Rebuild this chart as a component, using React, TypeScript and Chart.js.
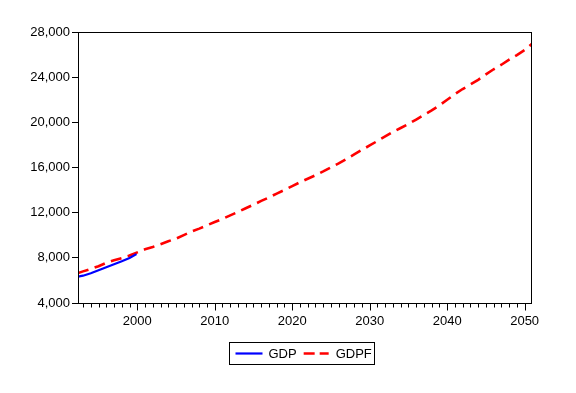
import React, { useEffect, useRef } from 'react';
import { Chart, registerables } from 'chart.js';

Chart.register(...registerables);

// Series names
const seriesNames = ['GDP', 'GDPF'];

const gdpYears = [1992.35, 1993, 1994, 1995, 1996, 1997, 1998, 1999, 1999.9];
const gdpValues = [6330, 6420, 6640, 6900, 7170, 7430, 7690, 7990, 8330];

// GDPF (forecast)
const gdpfYears = [
  1992.35, 1993, 1994, 1995, 1996, 1997, 1998, 1999, 2000, 2001, 2002, 2003, 2004,
  2005, 2006, 2007, 2008, 2009, 2010, 2011, 2012, 2013, 2014, 2015, 2016, 2017,
  2018, 2019, 2020, 2021, 2022, 2023, 2024, 2025, 2026, 2027, 2028, 2029, 2030,
  2031, 2032, 2033, 2034, 2035, 2036, 2037, 2038, 2039, 2040, 2041, 2042, 2043,
  2044, 2045, 2046, 2047, 2048, 2049, 2050, 2050.95,
];
const gdpfValues = [
  6650, 6800, 7020, 7260, 7560, 7790, 7980, 8200, 8480, 8760, 8960, 9210, 9470,
  9700, 10010, 10320, 10590, 10880, 11170, 11450, 11760, 12060, 12390, 12700, 13040, 13350,
  13690, 14010, 14350, 14690, 15000, 15310, 15650, 16010, 16360, 16760, 17160, 17560, 17950,
  18350, 18750, 19150, 19500, 19860, 20250, 20660, 21060, 21500, 22000, 22500, 22950, 23350,
  23760, 24250, 24700, 25100, 25550, 25960, 26400, 26950,
];

// Axis ticks
const yTicks = [4000, 8000, 12000, 16000, 20000, 24000, 28000];
const xLabelYears = [2000, 2010, 2020, 2030, 2040, 2050];
const xMinorYears = Array.from({ length: 58 }, (_, i) => 1993 + i);
const xRange = [1992.35, 2050.95];
const yRange = [4000, 28000];

const FONT = '"Liberation Sans", Arial, sans-serif';

export default function App() {
  const ref = useRef<HTMLCanvasElement>(null);

  useEffect(() => {
    const frame = {
      id: 'frame',
      afterDraw(chart: any) {
        const ctx = chart.ctx as CanvasRenderingContext2D;
        const { left, top, right, bottom } = chart.chartArea;
        const x0 = Math.round(left) + 0.5;
        const x1 = Math.round(right) - 0.5;
        const y0 = Math.round(top) + 0.5;
        const y1 = Math.round(bottom) + 0.5;
        ctx.save();
        ctx.strokeStyle = '#000';
        ctx.lineWidth = 1;
        ctx.setLineDash([]);
        ctx.strokeRect(x0, y0, x1 - x0, y1 - y0);
        // x tick marks (minor every year, major every decade)
        const xs = chart.scales.x;
        ctx.beginPath();
        xMinorYears.forEach((yr) => {
          const p = Math.round(xs.getPixelForValue(yr)) + 0.5;
          const len = yr % 10 === 0 ? 7 : 4;
          ctx.moveTo(p, y1);
          ctx.lineTo(p, y1 + len);
        });
        ctx.stroke();

        // legend
        ctx.font = `13px ${FONT}`;
        ctx.fillStyle = '#000';
        ctx.textBaseline = 'middle';
        ctx.textAlign = 'left';
        const w1 = ctx.measureText(seriesNames[0]).width;
        const w2 = ctx.measureText(seriesNames[1]).width;
        const total = 6 + 27 + 6 + w1 + 7 + 25 + 7 + w2 + 3;
        const bx = 229.5;
        const by = 342.5;
        const bh = 22;
        ctx.strokeRect(bx, by, Math.round(total), bh);
        const ly = 353.5;
        let x = bx + 6;
        ctx.strokeStyle = '#0000FF';
        ctx.lineWidth = 2.2;
        ctx.beginPath();
        ctx.moveTo(x, ly);
        ctx.lineTo(x + 27, ly);
        ctx.stroke();
        x += 27 + 6;
        ctx.fillText(seriesNames[0], x, ly + 0.5);
        x += w1 + 7;
        ctx.strokeStyle = '#FF0000';
        ctx.lineWidth = 2.6;
        ctx.setLineDash([11, 5]);
        ctx.beginPath();
        ctx.moveTo(x, ly);
        ctx.lineTo(x + 25, ly);
        ctx.stroke();
        ctx.setLineDash([]);
        x += 25 + 7;
        ctx.fillText(seriesNames[1], x, ly + 0.5);
        ctx.restore();
      },
    };

    const chart = new Chart(ref.current!, {
      type: 'line',
      data: {
        datasets: [
          {
            label: seriesNames[0],
            data: gdpYears.map((x, i) => ({ x, y: gdpValues[i] })),
            borderColor: '#0000FF',
            backgroundColor: '#0000FF',
            borderWidth: 2.2,
            pointRadius: 0,
            fill: false,
            tension: 0,
          },
          {
            label: seriesNames[1],
            data: gdpfYears.map((x, i) => ({ x, y: gdpfValues[i] })),
            borderColor: '#FF0000',
            backgroundColor: '#FF0000',
            borderWidth: 2.6,
            borderDash: [11, 6.5],
            pointRadius: 0,
            fill: false,
            tension: 0,
          },
        ],
      },
      options: {
        responsive: false,
        animation: false,
        devicePixelRatio: 1,
        layout: { padding: { left: 0, right: 44, top: 32, bottom: 60 } },
        plugins: { legend: { display: false }, tooltip: { enabled: false } },
        scales: {
          x: {
            type: 'linear',
            min: xRange[0],
            max: xRange[1],
            afterBuildTicks: (s: any) => {
              s.ticks = xLabelYears.map((v) => ({ value: v }));
            },
            afterFit: (s: any) => {
              s.height = 30;
            },
            grid: { display: false, drawTicks: true, tickLength: 7 },
            border: { display: false },
            ticks: {
              callback: (v: any) => String(v),
              font: { family: FONT, size: 13 },
              color: '#000',
              padding: 4,
              maxRotation: 0,
              autoSkip: false,
            },
          },
          y: {
            type: 'linear',
            min: yRange[0],
            max: yRange[1],
            afterBuildTicks: (s: any) => {
              s.ticks = yTicks.map((v) => ({ value: v }));
            },
            afterFit: (s: any) => {
              s.width = 78;
            },
            grid: {
              display: true,
              drawOnChartArea: false,
              drawTicks: true,
              tickLength: 6,
              color: '#000',
              lineWidth: 1,
            },
            border: { display: false },
            ticks: {
              callback: (v: any) => Number(v).toLocaleString('en-US'),
              font: { family: FONT, size: 13 },
              color: '#000',
              padding: 2,
            },
          },
        },
      },
      plugins: [frame],
    });
    return () => chart.destroy();
  }, []);

  return (
    <div style={{ position: 'absolute', left: 0, top: 0, width: 576, height: 393, background: '#fff' }}>
      <canvas ref={ref} width={576} height={393} style={{ display: 'block' }} />
    </div>
  );
}
